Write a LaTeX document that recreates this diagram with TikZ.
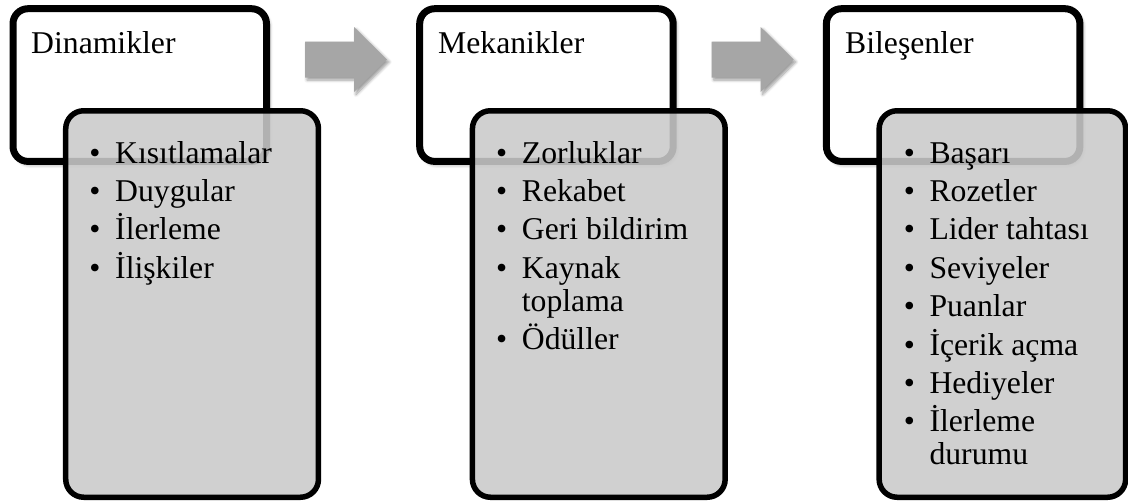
\documentclass[tikz,border=0pt]{standalone}
\usepackage{fontspec}
\setmainfont{Liberation Serif}
\usetikzlibrary{shadows.blur}
\definecolor{panelgray}{RGB}{202,202,202}
\definecolor{arrowgray}{RGB}{166,166,166}
\tikzset{
  stagebox/.style={draw=black, line width=7pt, fill=white, rounded corners=15pt,
    inner sep=0pt, outer sep=0pt,
    blur shadow={shadow xshift=2.5pt, shadow yshift=-3pt, shadow blur radius=4pt,
      shadow blur steps=8, shadow opacity=45}},
  detailbox/.style={draw=black, line width=5.5pt, fill=panelgray, fill opacity=0.88,
    rounded corners=18pt, inner sep=0pt, outer sep=0pt},
  flowarrow/.style={fill=arrowgray,
    blur shadow={shadow xshift=2pt, shadow yshift=-2.5pt, shadow blur radius=3pt,
      shadow blur steps=6, shadow opacity=40}},
  txt/.style={anchor=base west, inner sep=0pt, font=\fontsize{31.7}{33}\selectfont},
  bulletmark/.style={anchor=base, inner sep=0pt, font=\fontsize{31.7}{33}\selectfont},
}
% one bullet line: name, bullet x, baseline y, text
\newcommand\bulletline[4]{%
  \node[bulletmark] (#1-dot) at (#2,#3) {•};
  \node[txt] (#1) at (#2+20,#3) {#4};}
% block arrow starting at a named coordinate (left end of the shaft axis)
\newcommand\blockarrow[1]{%
  \fill[flowarrow] (#1) ++(0,-18) -- ++(49,0) -- ++(0,-14.5) -- ++(33,32.5)
    -- ++(-33,32.5) -- ++(0,-14.5) -- ++(-49,0) -- cycle;}
\begin{document}
\begin{tikzpicture}[x=1pt,y=-1pt]
\useasboundingbox (0,0) rectangle (1128,501);

% stage boxes
\node[stagebox, minimum width=253.5pt, minimum height=152.7pt] (dyn) at (139.75,85.05) {};
\node[stagebox, minimum width=253.5pt, minimum height=152.7pt] (mech) at (546.45,85.05) {};
\node[stagebox, minimum width=253.5pt, minimum height=152.7pt] (comp) at (953.15,85.05) {};

\node[txt] (dyn-title) at (31,53) {Dinamikler};
\node[txt] (mech-title) at (438,53) {Mekanikler};
\node[txt] (comp-title) at (845,53) {Bileşenler};

% arrows between the stages
\coordinate (arr1) at (305,59.5);
\coordinate (arr2) at (711.7,59.5);
\blockarrow{arr1}
\blockarrow{arr2}

% detail panels
\node[detailbox, minimum width=252.75pt, minimum height=386.5pt] (dyn-list) at (192.1,304) {};
\node[detailbox, minimum width=252.75pt, minimum height=386.5pt] (mech-list) at (598.8,304) {};
\node[detailbox, minimum width=246.5pt, minimum height=386.5pt] (comp-list) at (1002.4,304) {};

% Dinamikler items
\bulletline{d1}{95}{163}{Kısıtlamalar}
\bulletline{d2}{95}{201.4}{Duygular}
\bulletline{d3}{95}{239.8}{İlerleme}
\bulletline{d4}{95}{278.2}{İlişkiler}

% Mekanikler items
\bulletline{m1}{501.7}{163}{Zorluklar}
\bulletline{m2}{501.7}{201.4}{Rekabet}
\bulletline{m3}{501.7}{239.8}{Geri bildirim}
\bulletline{m4}{501.7}{278.2}{Kaynak}
\node[txt] (m4b) at (521.7,311.2) {toplama};
\bulletline{m5}{501.7}{349.6}{Ödüller}

% Bileşenler items
\bulletline{c1}{909.3}{163}{Başarı}
\bulletline{c2}{909.3}{201.4}{Rozetler}
\bulletline{c3}{909.3}{239.8}{Lider tahtası}
\bulletline{c4}{909.3}{278.2}{Seviyeler}
\bulletline{c5}{909.3}{316.6}{Puanlar}
\bulletline{c6}{909.3}{355}{İçerik açma}
\bulletline{c7}{909.3}{393.4}{Hediyeler}
\bulletline{c8}{909.3}{431.8}{İlerleme}
\node[txt] (c8b) at (929.3,464.8) {durumu};
\end{tikzpicture}
\end{document}
